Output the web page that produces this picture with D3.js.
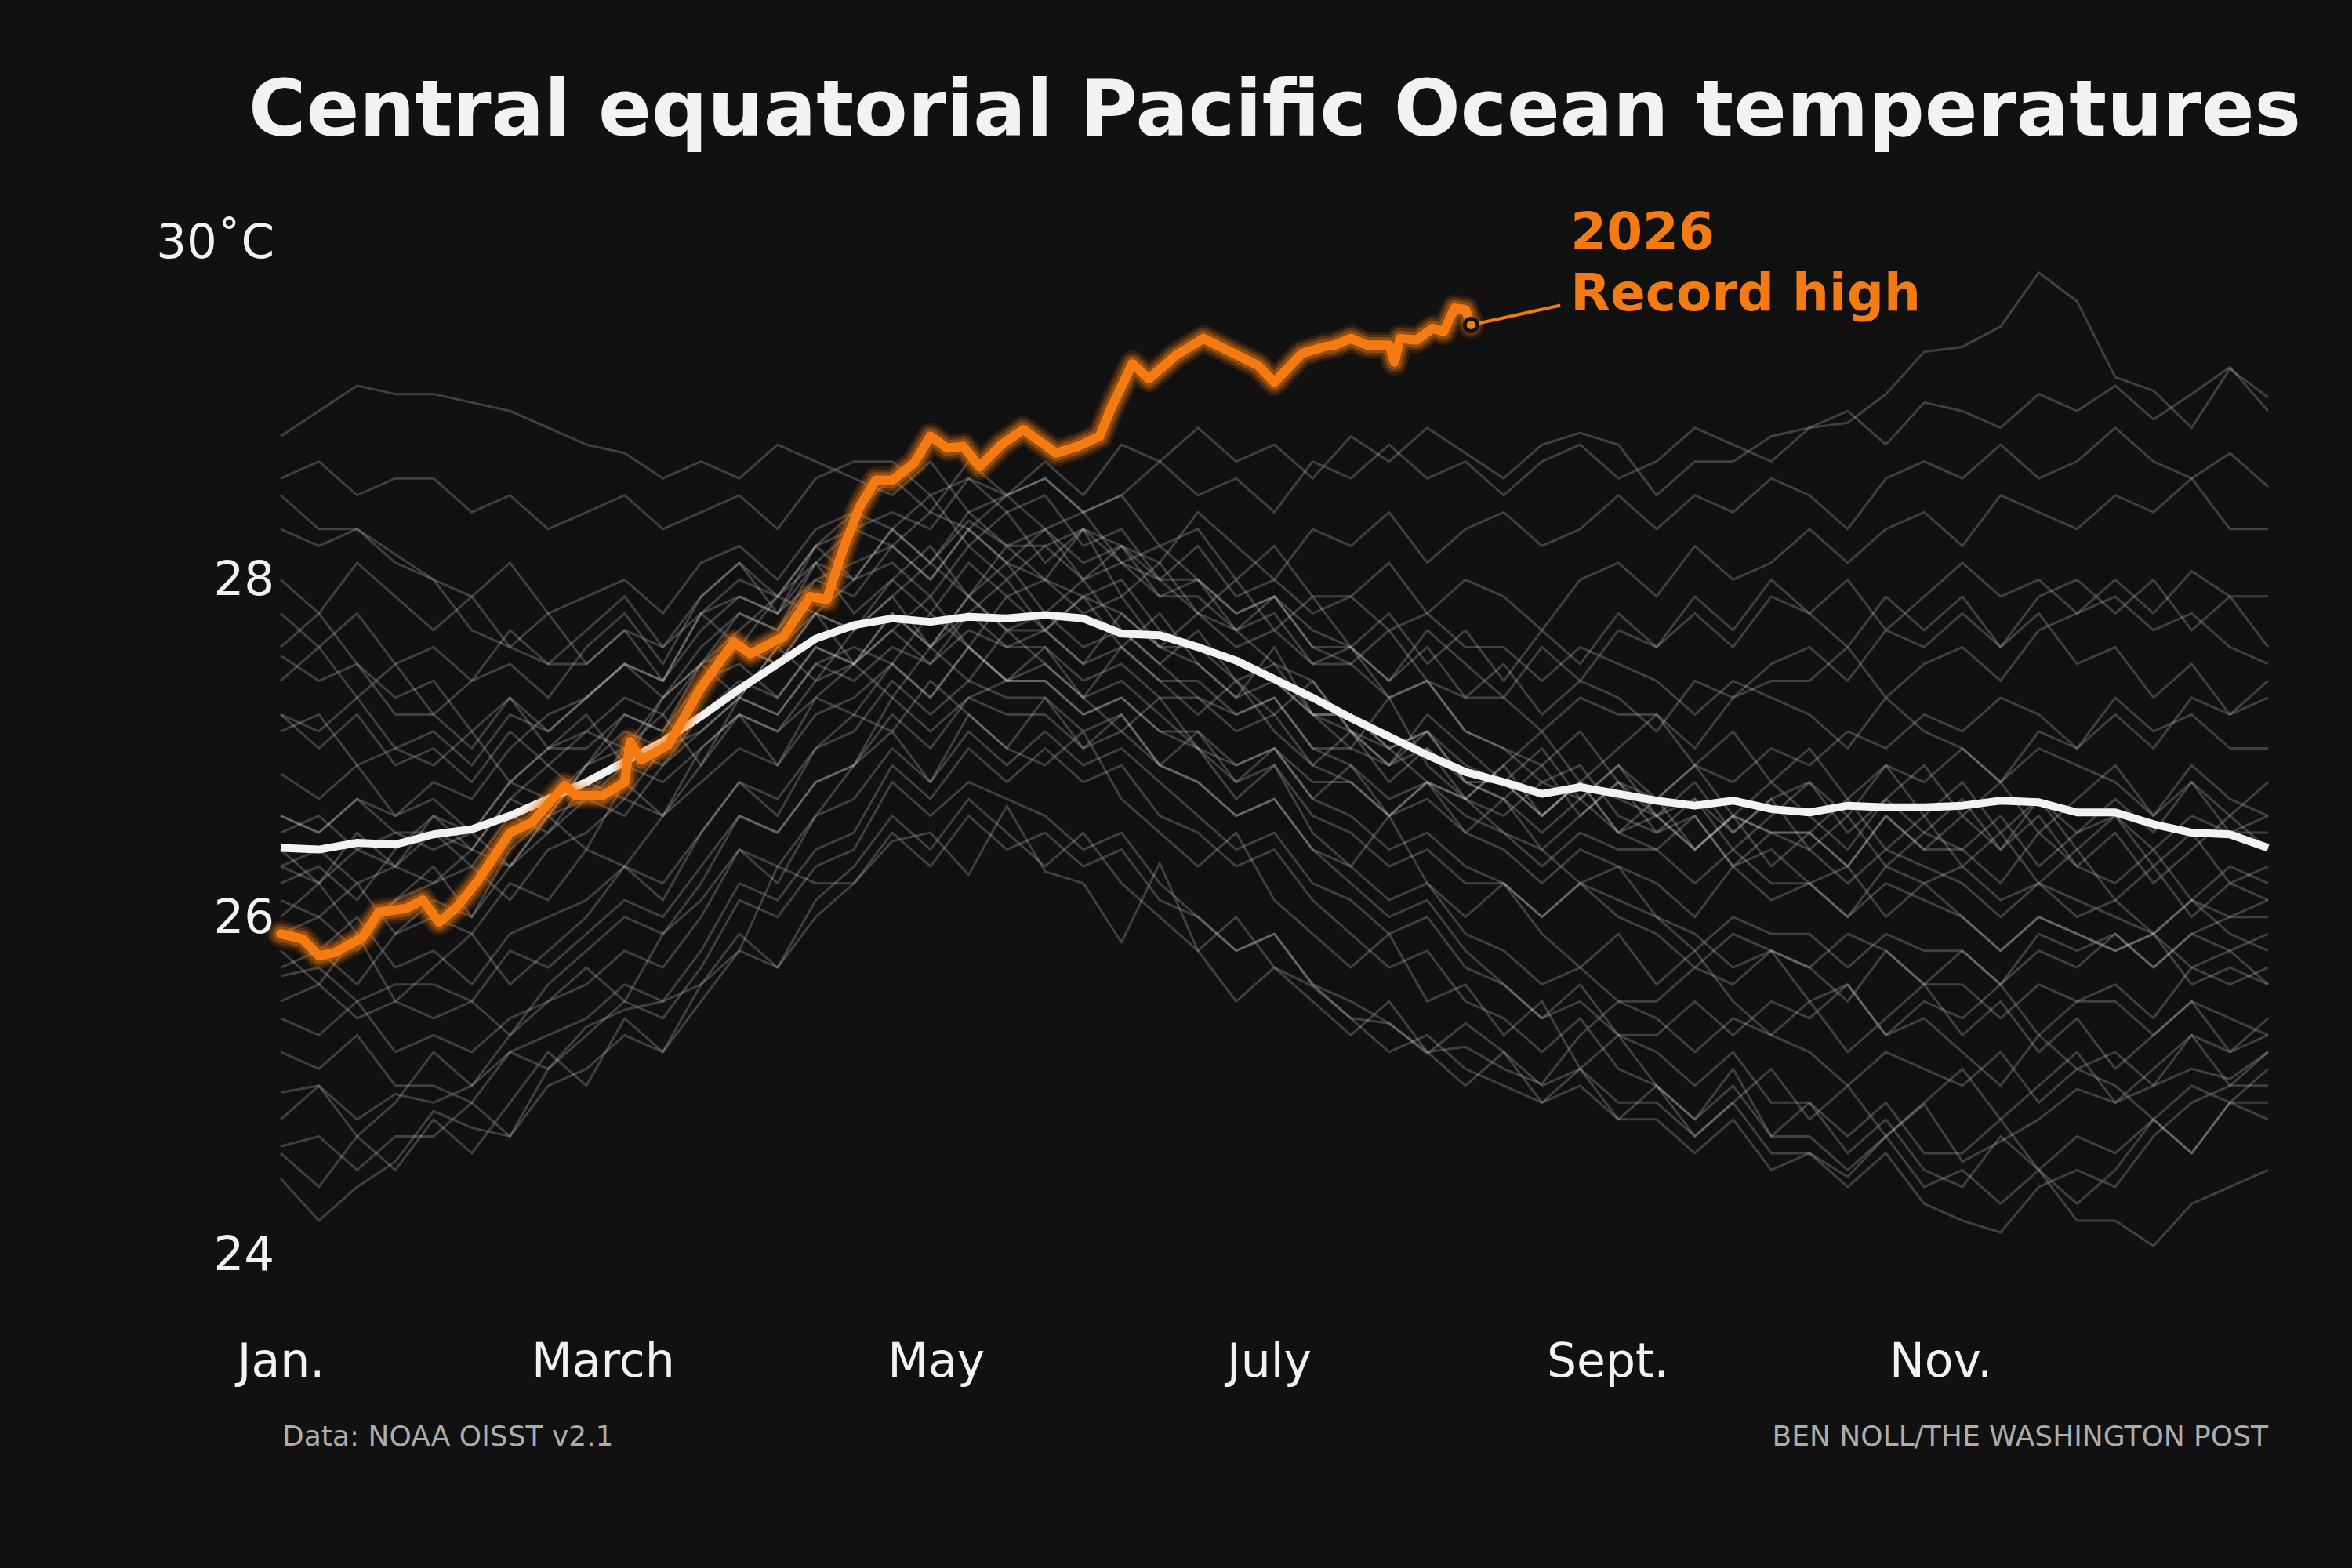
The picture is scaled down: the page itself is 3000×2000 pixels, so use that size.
<!DOCTYPE html>
<html lang="en">
<head>
<meta charset="utf-8">
<title>Central equatorial Pacific Ocean temperatures</title>
<script src="https://d3js.org/d3.v7.min.js"></script>
<style>
  body { margin: 0; background: #111111; }
  text { font-family: "DejaVu Sans", sans-serif; }
</style>
</head>
<body>
<script>

// x ticks (day of year)
var monthDays = [0, 59, 120, 181, 243, 304];
var monthLabels = ["Jan.", "March", "May", "July", "Sept.", "Nov."];
var yTicks = [24, 26, 28, 30];

// past years, one value every 7 days (day 0 .. 364)
// warming years
var warm1 = [26.3,26.2,26.4,26.3, 26.5,26.4,26.7,26.6, 26.9,27.2,27.1,27.5, 27.8,27.7,28.1,28.3, 28.4,28.3,28.6,28.5, 28.7,28.5,28.8,28.7, 28.9,28.7,28.8,28.6, 28.85,28.7,28.9,28.75, 28.6,28.8,28.87,28.8, 28.5,28.7,28.7,28.85, 28.9,28.93,29.1,29.35, 29.38,29.5,29.82,29.65, 29.2,29.12,28.9,29.25, 29.08];
var warm2 = [26.6,26.5,26.7,26.6, 26.8,26.7,27.0,27.2, 27.3,27.5,27.4,27.8, 28.0,27.9,28.2,28.3, 28.2,28.4,28.3,28.5, 28.6,28.4,28.5,28.7, 28.5,28.6,28.4,28.7, 28.6,28.8,28.6,28.7, 28.5,28.7,28.8,28.6, 28.7,28.9,28.8,28.7, 28.9,29.0,28.8,29.05, 29.0,28.9,29.1,29.0, 29.15,28.95,29.1,29.26, 29.0];
var warm3 = [25.9,26.0,25.8,26.1, 26.2,26.4,26.3,26.6, 26.9,27.1,27.0,27.4, 27.6,27.5,27.8,27.7, 27.9,28.1,27.9,28.2, 28.0,28.3,28.2,28.1, 28.4,28.2,28.0,28.3, 28.2,28.4,28.1,28.3, 28.4,28.2,28.3,28.5, 28.3,28.5,28.4,28.6, 28.5,28.3,28.6,28.7, 28.6,28.8,28.6,28.7, 28.9,28.7,28.6,28.75, 28.55];
var warm4 = [26.2,26.3,26.1,26.4, 26.6,26.5,26.8,27.0, 27.1,27.0,27.3,27.5, 27.7,27.9,27.8,28.0, 28.1,27.9,28.2,28.0, 28.2,28.3,28.1,28.0, 28.2,27.9,28.0,27.8, 27.9,28.1,27.8,28.0, 27.9,27.7,28.0,28.1, 27.9,28.2,28.0,28.1, 28.3,28.1,28.3,28.4, 28.2,28.5,28.4,28.3, 28.5,28.4,28.6,28.3, 28.3];
var warm5 = [25.7,25.8,25.6,25.9, 26.1,26.0,26.3,26.5, 26.7,26.6,26.9,27.1, 27.3,27.2,27.5,27.6, 27.5,27.8,27.6,27.9, 27.7,27.9,27.8,27.6, 27.8,27.6,27.7,27.5, 27.6,27.4,27.7,27.5, 27.3,27.6,27.4,27.7, 27.6,27.8,27.6,27.9, 27.8,28.0,27.7,27.9, 28.1,27.9,28.0,27.8, 28.0,27.8,28.05,27.9, 27.9];
var warm6 = [27.2,27.1,27.3,27.0, 27.1,26.9,27.2,27.1, 27.3,27.5,27.4,27.7, 27.9,27.8,28.1,28.0, 28.3,28.1,28.4,28.2, 28.3,28.0,28.2,27.9, 28.0,27.7,27.9,27.6, 27.5,27.7,27.4,27.3, 27.5,27.2,27.4,27.3, 27.1,27.4,27.3,27.5, 27.6,27.4,27.7,27.6, 27.8,27.6,27.9,28.0, 27.8,28.0,27.7,27.9, 27.6];
var warm7 = [27.4,27.6,27.3,27.5, 27.2,27.4,27.5,27.3, 27.6,27.8,27.5,27.9, 28.1,27.8,28.2,28.4, 28.3,28.5,28.2,28.4, 28.1,28.3,27.9,28.1, 27.8,28.0,27.7,27.9, 27.6,27.8,27.5,27.7, 27.4,27.7,27.5,27.8, 27.6,27.9,27.7,28.0, 27.8,27.6,27.9,27.7, 27.9,27.6,27.8,27.5, 27.6,27.3,27.5,27.2, 27.3];
// cooling years
var cool1 = [28.85,29.0,29.15,29.1, 29.1,29.05,29.0,28.9, 28.8,28.75,28.6,28.7, 28.6,28.8,28.7,28.6, 28.5,28.7,28.4,28.5, 28.3,28.4,28.1,28.2, 28.0,27.8,27.9,27.6, 27.6,27.3,27.4,27.1, 27.0,26.8,26.9,26.6, 26.5,26.6,26.3,26.4, 26.2,26.3,26.0,26.2, 26.0,25.8,26.0,25.9, 25.8,25.9,25.6,25.7, 25.6];
var cool2 = [28.6,28.7,28.5,28.6, 28.6,28.4,28.5,28.3, 28.4,28.5,28.3,28.4, 28.5,28.3,28.6,28.7, 28.7,28.5,28.6,28.4, 28.5,28.2,28.3,28.0, 27.8,27.7,27.5,27.4, 27.1,27.0,26.8,26.7, 26.5,26.4,26.2,26.3, 26.0,25.9,25.7,25.8, 25.5,25.6,25.3,25.4, 25.2,25.0,25.3,25.1, 25.0,24.8,25.0,24.9, 24.8];
var cool3 = [28.3,28.2,28.3,28.1, 28.0,27.9,28.1,27.8, 27.9,28.0,27.8,28.1, 28.2,28.0,28.3,28.4, 28.6,28.4,28.7,28.5, 28.6,28.4,28.5,28.2, 28.3,28.0,28.2,27.9, 27.9,27.7,27.8,27.6, 27.6,27.4,27.6,27.5, 27.4,27.2,27.4,27.3, 27.2,27.0,27.3,27.1, 27.0,26.8,27.0,26.9, 26.8,26.6,26.9,26.7, 26.6];
var cool4 = [27.8,27.6,27.8,27.5, 27.6,27.4,27.7,27.5, 27.7,27.9,27.6,27.9, 28.1,27.9,28.2,28.0, 28.3,28.1,28.35,28.2, 28.2,28.0,28.1,27.9, 27.9,27.7,27.8,27.5, 27.5,27.3,27.4,27.1, 27.0,26.9,27.1,26.8, 26.7,26.9,26.6,26.8, 26.6,26.4,26.7,26.5, 26.4,26.2,26.5,26.3, 26.2,26.4,26.1,26.3, 26.2];
var cool5 = [27.55,27.4,27.5,27.2, 27.2,27.0,27.3,27.1, 27.3,27.5,27.3,27.6, 27.8,27.7,28.0,27.9, 28.2,28.0,28.3,28.1, 28.3,28.1,28.2,28.0, 28.0,27.8,27.9,27.7, 27.6,27.4,27.6,27.3, 27.3,27.1,27.3,27.2, 27.2,27.0,27.3,27.4, 27.4,27.6,27.3,27.5, 27.6,27.4,27.7,27.8, 27.9,27.7,27.8,27.6, 27.5];
var cool6 = [28.5,28.3,28.3,28.15, 28.0,27.7,27.6,27.5, 27.5,27.7,27.6,27.8, 27.9,27.8,28.0,28.1, 28.2,28.0,28.3,28.1, 28.0,27.9,28.0,27.7, 27.6,27.5,27.4,27.2, 27.2,27.0,27.1,26.9, 26.8,26.6,26.8,26.7, 26.6,26.4,26.6,26.5, 26.4,26.2,26.4,26.3, 26.2,26.0,26.2,26.1, 26.0,25.9,26.1,25.9, 25.8];
var cool7 = [27.6,27.8,27.5,27.3, 27.4,27.1,27.3,27.0, 27.2,26.9,27.3,27.5, 27.3,27.6,27.8,27.5, 27.7,27.9,27.6,27.4, 27.6,27.3,27.1,27.3, 27.0,26.7,26.9,26.5, 26.3,26.6,26.2,26.0, 26.2,25.9,25.7,25.9, 25.6,25.8,25.5,25.3, 25.5,25.2,25.4,25.6, 25.3,25.5,25.2,25.4, 25.1,25.3,25.5,25.2, 25.4];
var cool8 = [28.0,27.8,28.1,27.9, 27.7,27.9,27.6,27.8, 27.5,27.7,27.4,27.8, 27.6,27.9,28.1,27.8, 28.0,28.2,27.9,28.1, 27.8,28.0,27.7,27.5, 27.7,27.4,27.2,27.4, 27.1,26.9,27.2,27.0, 26.8,27.0,26.7,26.9, 26.6,26.8,26.5,26.7, 26.4,26.6,26.3,26.5, 26.7,26.4,26.6,26.3, 26.5,26.2,26.4,26.6, 26.4];
// neutral years
var neut1 = [27.2,27.0,27.2,26.9, 27.0,26.8,27.1,26.9, 27.1,27.3,27.2,27.5, 27.6,27.5,27.8,27.7, 28.0,27.8,28.1,27.9, 28.0,27.8,27.9,27.6, 27.6,27.4,27.5,27.2, 27.2,27.0,27.1,26.8, 26.8,26.6,26.8,26.5, 26.6,26.4,26.6,26.5, 26.5,26.3,26.6,26.4, 26.6,26.4,26.7,26.5, 26.7,26.5,26.8,26.6, 26.8];
var neut2 = [27.1,27.2,26.9,27.0, 26.9,27.1,26.8,27.0, 27.0,27.2,27.1,27.4, 27.5,27.3,27.6,27.5, 27.8,27.6,27.9,27.7, 27.7,27.5,27.6,27.4, 27.4,27.2,27.3,27.0, 27.0,26.9,27.1,26.8, 26.7,26.9,26.6,26.8, 26.6,26.7,26.5,26.7, 26.8,26.6,26.9,26.8, 27.0,26.8,27.1,27.0, 27.2,27.0,27.3,27.2, 27.4];
var neut3 = [26.85,26.7,26.9,26.6, 26.7,26.5,26.8,26.7, 26.9,27.0,26.9,27.2, 27.4,27.3,27.6,27.5, 27.7,27.5,27.8,27.6, 27.6,27.4,27.5,27.3, 27.3,27.1,27.2,26.9, 26.8,26.6,26.7,26.5, 26.4,26.2,26.4,26.3, 26.2,26.0,26.3,26.1, 26.2,26.0,26.3,26.2, 26.3,26.1,26.2,26.0, 26.1,25.9,26.1,26.0, 26.0];
var neut4 = [26.6,26.5,26.7,26.5, 26.5,26.3,26.6,26.5, 26.8,26.7,27.0,27.1, 27.3,27.2,27.5,27.4, 27.6,27.5,27.7,27.6, 27.7,27.5,27.8,27.6, 27.5,27.3,27.4,27.2, 27.1,26.9,27.0,26.8, 26.7,26.5,26.7,26.5, 26.4,26.6,26.3,26.5, 26.5,26.3,26.6,26.4, 26.4,26.6,26.3,26.5, 26.6,26.4,26.6,26.5, 26.5];
var neut5 = [26.3,26.4,26.2,26.3, 26.2,26.3,26.1,26.4, 26.5,26.7,26.6,26.9, 27.2,27.1,27.4,27.5, 27.8,27.6,27.9,27.7, 27.8,27.6,27.7,27.5, 27.3,27.2,27.3,27.0, 26.9,26.7,26.8,26.6, 26.5,26.3,26.5,26.4, 26.4,26.2,26.4,26.2, 26.2,26.0,26.2,26.1, 26.0,25.8,26.0,25.9, 25.8,25.9,25.7,25.8, 25.6];
var neut6 = [26.1,26.0,26.2,25.9, 26.0,25.9,26.2,26.1, 26.4,26.3,26.6,26.8, 27.0,26.9,27.2,27.3, 27.5,27.3,27.6,27.4, 27.5,27.3,27.4,27.2, 27.0,26.9,27.0,26.7, 26.6,26.4,26.5,26.3, 26.2,26.0,26.2,26.0, 25.9,25.7,25.9,25.8, 25.7,25.5,25.8,25.6, 25.6,25.4,25.6,25.5, 25.5,25.3,25.5,25.4, 25.3];
var neut7 = [26.5,26.6,26.4,26.5, 26.4,26.5,26.3,26.6, 26.7,26.9,26.8,27.0, 27.2,27.1,27.3,27.2, 27.5,27.3,27.6,27.4, 27.4,27.2,27.3,27.1, 27.1,26.9,27.0,26.8, 26.8,26.6,26.8,26.7, 26.6,26.8,26.7,26.9, 26.7,26.9,26.8,27.0, 26.9,27.1,27.0,27.2, 27.1,27.3,27.2,27.0, 27.3,27.1,27.2,27.0, 27.0];
var neut8 = [26.4,26.2,26.5,26.3, 26.6,26.4,26.7,26.9, 26.7,27.0,27.2,26.9, 27.3,27.6,27.4,27.7, 27.9,27.6,27.8,28.0, 27.7,27.9,27.6,27.8, 27.5,27.3,27.6,27.2, 27.0,27.3,26.9,26.7, 26.9,26.6,26.8,26.5, 26.7,26.4,26.6,26.3, 26.5,26.7,26.4,26.6, 26.3,26.5,26.2,26.4, 26.1,26.3,26.0,26.2, 26.1];
var neut9 = [26.0,26.2,25.9,26.1, 26.3,26.0,26.4,26.6, 26.4,26.8,26.6,27.0, 27.2,26.9,27.3,27.5, 27.3,27.6,27.4,27.7, 27.5,27.3,27.6,27.4, 27.2,27.4,27.1,26.9, 27.1,26.8,27.0,26.7, 26.9,27.1,26.8,27.0, 27.2,26.9,27.1,26.8, 27.0,26.7,26.9,26.6, 26.8,26.5,26.7,26.4, 26.6,26.3,26.5,26.2, 26.3];
var neut10 = [24.8,25.0,24.7,24.9, 25.2,25.0,25.3,25.5, 25.7,25.5,25.9,26.1, 26.4,26.2,26.6,26.9, 27.1,26.8,27.2,27.0, 27.3,27.0,27.2,26.9, 27.1,26.8,27.0,26.7, 26.9,26.6,26.8,26.5, 26.7,26.4,26.6,26.8, 26.5,26.7,26.4,26.6, 26.8,26.5,26.7,26.9, 26.6,26.8,26.5,26.7, 26.9,26.6,26.8,26.5, 26.6];
// cold years
var cold1 = [25.65,25.7,25.5,25.6, 25.6,25.5,25.8,25.7, 25.9,26.1,26.0,26.3, 26.6,26.5,26.8,26.9, 27.3,27.1,27.3,27.2, 27.2,27.0,27.1,26.9, 26.8,26.6,26.7,26.4, 26.3,26.1,26.2,25.9, 25.8,25.6,25.7,25.5, 25.4,25.2,25.4,25.3, 25.2,25.0,25.2,25.1, 25.0,25.2,24.9,25.1, 25.2,25.0,25.3,25.2, 25.3];
var cold2 = [25.4,25.3,25.5,25.2, 25.3,25.2,25.4,25.5, 25.6,25.8,25.7,26.0, 26.4,26.3,26.6,26.7, 27.0,26.8,27.1,26.9, 27.1,26.9,27.0,26.8, 26.6,26.4,26.5,26.2, 26.1,25.9,26.0,25.7, 25.6,25.4,25.5,25.3, 25.2,25.0,25.2,24.9, 24.9,24.7,24.9,24.6, 24.6,24.8,24.5,24.7, 24.6,24.8,24.6,24.9, 24.9];
var cold3 = [25.2,25.1,25.3,25.0, 25.0,24.9,25.2,25.3, 25.4,25.6,25.5,25.8, 26.2,26.1,26.4,26.5, 26.9,26.7,27.0,26.8, 27.0,26.8,26.9,26.6, 26.5,26.3,26.4,26.1, 25.9,25.7,25.8,25.5, 25.4,25.2,25.4,25.1, 25.0,24.8,25.0,24.7, 24.7,24.5,24.7,24.4, 24.5,24.3,24.5,24.2, 24.2,24.05,24.3,24.4, 24.5];
var cold4 = [24.96,25.0,24.8,24.95, 24.9,25.0,25.2,25.1, 25.3,25.5,25.4,25.7, 26.1,26.0,26.3,26.4, 26.8,26.6,26.8,26.7, 26.6,26.4,26.5,26.2, 26.0,25.8,25.9,25.6, 25.5,25.37,25.19,25.37, 25.2,25.0,25.1,24.9, 24.9,24.7,24.9,24.6, 24.6,24.4,24.6,24.3, 24.2,24.13,24.4,24.5, 24.4,24.7,24.9,25.0, 25.0];
var cold5 = [24.64,24.7,24.5,24.7, 24.7,24.9,24.7,25.0, 25.1,25.3,25.2,25.5, 25.8,25.7,26.0,26.2, 26.5,26.3,26.6,26.4, 26.5,26.3,26.4,26.1, 26.0,25.8,25.9,25.6, 25.4,25.2,25.3,25.1, 25.0,24.9,25.0,24.8, 24.8,24.6,24.8,24.5, 24.6,24.46,24.7,24.89, 24.55,24.67,24.8,24.98, 24.9,25.0,25.1,25.04, 25.2];
var cold6 = [24.45,24.2,24.4,24.55, 24.85,24.75,24.7,25.1, 25.35,25.45,25.5,25.6, 25.8,26.3,26.2,26.2, 26.45,26.5,26.25,26.66, 26.27,26.2,25.85,26.32, 25.8,25.5,25.7,25.59, 25.4,25.37,25.2,25.23, 25.1,25.01,25.3,25.5, 25.5,25.7,25.6,25.8, 25.7,25.9,25.8,25.6, 25.8,25.6,25.9,25.8, 25.9,25.7,25.9,25.8, 25.9];
var cold7 = [25.9,25.8,26.0,25.7, 25.8,25.6,25.9,26.0, 26.1,26.3,26.2,26.5, 26.8,26.7,27.0,27.1, 27.4,27.2,27.4,27.3, 27.3,27.1,27.2,26.9, 26.8,26.6,26.7,26.4, 26.2,26.0,26.1,25.8, 25.6,25.4,25.6,25.3, 25.3,25.5,25.3,25.5, 25.4,25.6,25.3,25.5, 25.4,25.6,25.3,25.5, 25.6,25.4,25.7,25.6, 25.7];
var cold8 = [25.5,25.6,25.4,25.5, 25.4,25.5,25.3,25.6, 25.8,26.0,25.9,26.2, 26.6,26.5,26.8,26.9, 27.2,27.0,27.3,27.4, 27.4,27.2,27.3,27.1, 27.0,26.8,26.9,26.6, 26.5,26.3,26.4,26.2, 26.2,26.0,26.2,26.1, 26.0,25.8,26.0,25.9, 25.9,25.7,25.9,25.8, 25.8,25.6,25.8,25.7, 25.9,25.7,25.9,26.0, 26.1];
var cold9 = [25.8,25.6,25.9,25.5, 25.7,25.9,25.6,25.8, 26.0,26.3,26.1,26.5, 26.8,26.6,27.0,27.2, 27.1,27.4,27.2,27.0, 26.9,27.1,26.7,26.5, 26.3,26.5,26.1,25.9, 25.7,25.9,25.5,25.6, 25.3,25.5,25.1,25.3, 25.0,24.8,25.1,24.7, 24.9,24.6,24.8,24.5, 24.4,24.7,24.5,24.3, 24.5,24.8,24.6,24.9, 25.1];
var cold10 = [24.6,24.4,24.7,24.5, 24.8,24.6,24.9,25.2, 25.0,25.4,25.2,25.6, 25.9,25.7,26.1,26.3, 26.6,26.4,26.7,26.5, 26.3,26.5,26.2,26.0, 25.8,26.0,25.7,25.5, 25.3,25.5,25.2,25.0, 25.2,24.9,25.1,24.8, 25.0,24.7,24.9,25.1, 24.8,25.0,24.7,24.9, 25.1,24.8,25.0,25.2, 24.9,25.1,25.3,25.0, 25.2];

var pastYears = [warm1, warm2, warm3, warm4, warm5, warm6, warm7,
                 cool1, cool2, cool3, cool4, cool5, cool6, cool7, cool8,
                 neut1, neut2, neut3, neut4, neut5, neut6, neut7, neut8, neut9, neut10,
                 cold1, cold2, cold3, cold4, cold5, cold6, cold7, cold8, cold9, cold10];

// long-term average
var avgDays = [0,7,14,21,28,35,42,49,56,63,70,77,84,91,98,105,112,119,126,133,140,147,154,161,168,175,182,189,196,203,210,217,224,231,238,245,252,259,266,273,280,287,294,301,308,315,322,329,336,343,350,357,364];
var avgTemps = [26.41,26.40,26.44,26.43,26.49,26.52,26.60,26.70,26.80,26.92,27.04,27.19,27.35,27.50,27.65,27.73,27.77,27.75,27.78,27.77,27.79,27.77,27.68,27.67,27.60,27.52,27.41,27.30,27.18,27.07,26.96,26.86,26.80,26.73,26.77,26.73,26.69,26.66,26.69,26.64,26.62,26.66,26.65,26.65,26.66,26.69,26.68,26.62,26.62,26.55,26.50,26.49,26.41];

// 2026 so far
var obsDays = [0,4,7,10,15,18,23,26,29,32,36,42,46,52,54,59,63,64,66,71,77,83,86,92,97,100,103,106,109,112,116,119,122,125,128,132,136,142,146,150,152,156,159,164,169,174,179,182,187,191,193,196,199,203,204,205,208,211,213,215,217,218];
var obsTemps = [25.90,25.87,25.77,25.79,25.88,26.03,26.05,26.10,25.97,26.05,26.21,26.50,26.56,26.78,26.72,26.72,26.80,27.04,26.93,27.02,27.36,27.63,27.56,27.66,27.90,27.88,28.18,28.43,28.59,28.59,28.69,28.85,28.78,28.79,28.67,28.80,28.89,28.75,28.79,28.85,29.01,29.28,29.19,29.33,29.43,29.35,29.27,29.17,29.34,29.38,29.39,29.43,29.39,29.39,29.29,29.43,29.42,29.49,29.47,29.61,29.60,29.51];

var width = 3000,
    height = 2000,
    orange = "#f47a12";

var svg = d3.select("body").append("svg")
    .attr("width", width)
    .attr("height", height)
    .style("background", "#111111");

var x = d3.scaleLinear().domain([0, 364]).range([358, 2893]);
var y = d3.scaleLinear().domain([24, 30]).range([1600, 309]);

var line = d3.line()
    .x(function(d){ return x(d[0]); })
    .y(function(d){ return y(d[1]); });

//title
svg.append("text")
    .attr("x", 1626)
    .attr("y", 173)
    .attr("text-anchor", "middle")
    .attr("font-weight", "bold")
    .attr("font-size", 100)
    .attr("fill", "#f2f2f2")
    .text("Central equatorial Pacific Ocean temperatures");

//axes
var yAxis = d3.axisLeft(y)
    .tickValues(yTicks)
    .tickSize(0)
    .tickPadding(8)
    .tickFormat(function(d){ return d === 30 ? "30˚C" : d; });

svg.append("g")
    .attr("transform", "translate(358,0)")
    .call(yAxis)
    .call(function(g){ g.select(".domain").remove(); })
    .attr("font-family", "DejaVu Sans")
    .attr("font-size", 61)
    .selectAll("text").attr("fill", "#f2f2f2");

var xAxis = d3.axisBottom(x)
    .tickValues(monthDays)
    .tickSize(0)
    .tickPadding(113)
    .tickFormat(function(d, i){ return monthLabels[i]; });

svg.append("g")
    .attr("transform", "translate(0,1600)")
    .call(xAxis)
    .call(function(g){ g.select(".domain").remove(); })
    .attr("font-family", "DejaVu Sans")
    .attr("font-size", 60)
    .selectAll("text").attr("fill", "#f2f2f2");

//past years
var plot = svg.append("g");

plot.selectAll(".past")
    .data(pastYears)
    .enter().append("path")
    .attr("class", "past")
    .attr("d", function(s){
        return line(s.map(function(v, i){ return [Math.min(i * 7, 364), v]; }));
    })
    .attr("fill", "none")
    .attr("stroke", "#ffffff")
    .attr("stroke-opacity", 0.2)
    .attr("stroke-width", 3)
    .attr("stroke-linejoin", "round");

//average
var avgPts = avgDays.map(function(d, i){ return [d, avgTemps[i]]; });
plot.append("path")
    .attr("d", line(avgPts))
    .attr("fill", "none")
    .attr("stroke", "#f2f2f2")
    .attr("stroke-width", 10)
    .attr("stroke-linejoin", "round");

//2026 with glow
var obsPts = obsDays.map(function(d, i){ return [d, obsTemps[i]]; });
var glow = [[34, 0.14], [27, 0.22], [20, 0.35]];
glow.forEach(function(g){
    plot.append("path")
        .attr("d", line(obsPts))
        .attr("fill", "none")
        .attr("stroke", orange)
        .attr("stroke-opacity", g[1])
        .attr("stroke-width", g[0])
        .attr("stroke-linejoin", "round")
        .attr("stroke-linecap", "round");
});
plot.append("path")
    .attr("d", line(obsPts))
    .attr("fill", "none")
    .attr("stroke", orange)
    .attr("stroke-width", 12)
    .attr("stroke-linejoin", "round")
    .attr("stroke-linecap", "round");

//annotation
var last = obsPts[obsPts.length - 1];
var ex = x(last[0]), ey = y(last[1]);

svg.append("line")
    .attr("x1", ex).attr("y1", ey)
    .attr("x2", ex + 114).attr("y2", ey - 25)
    .attr("stroke", orange)
    .attr("stroke-width", 4);

svg.append("circle")
    .attr("cx", ex).attr("cy", ey)
    .attr("r", 8)
    .attr("fill", orange)
    .attr("stroke", "#111111")
    .attr("stroke-width", 5);

var note = svg.append("text")
    .attr("x", ex + 127)
    .attr("font-weight", "bold")
    .attr("font-size", 66)
    .attr("fill", orange);
note.append("tspan").attr("x", ex + 127).attr("y", ey - 96).text("2026");
note.append("tspan").attr("x", ex + 127).attr("y", ey - 18).text("Record high");

//footer
svg.append("text")
    .attr("x", 360)
    .attr("y", 1844)
    .attr("font-size", 36)
    .attr("fill", "#adadad")
    .text("Data: NOAA OISST v2.1");

svg.append("text")
    .attr("x", 2893)
    .attr("y", 1844)
    .attr("text-anchor", "end")
    .attr("font-size", 36)
    .attr("fill", "#adadad")
    .text("BEN NOLL/THE WASHINGTON POST");

</script>
</body>
</html>
